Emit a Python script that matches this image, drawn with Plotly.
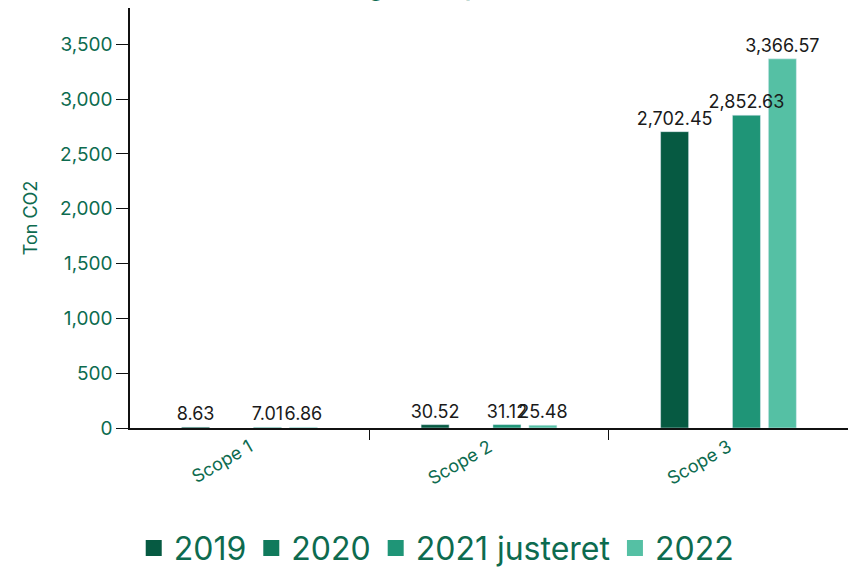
import plotly.graph_objects as go

categories = ["Scope 1", "Scope 2", "Scope 3"]
series_names = ["2019", "2020", "2021 justeret", "2022"]
v2019 = [8.63, 30.52, 2702.45]
v2020 = [None, None, None]
v2021 = [7.01, 31.12, 2852.63]
v2022 = [6.86, 25.48, 3366.57]
yticks = [0, 500, 1000, 1500, 2000, 2500, 3000, 3500]

colors = ["#065a42", "#107a5c", "#1f9577", "#55c0a4"]
values = [v2019, v2020, v2021, v2022]

FONT = "Inter, Lato, sans-serif"
GREEN = "#0d6b4f"

# grouped layout: 4 slots per category, drawn last-to-first so labels sit on top
SLOT = 0.15
BAR_W = 0.117
n = len(series_names)

fig = go.Figure()
for i in reversed(range(n)):
    center = (i - (n - 1) / 2) * SLOT
    fig.add_trace(go.Bar(
        x=categories, y=values[i], name=series_names[i], marker_color=colors[i],
        width=BAR_W, offset=center - BAR_W / 2,
        texttemplate="%{y:,.2f}", textposition="outside",
        constraintext="none",
        textfont=dict(family=FONT, size=18, color="#1a1a1a"),
        cliponaxis=False, showlegend=False,
    ))
# legend entries with larger square swatches
for name, col in zip(series_names, colors):
    fig.add_trace(go.Scatter(
        x=[None], y=[None], mode="markers", name=name,
        marker=dict(symbol="square", size=16, color=col),
        showlegend=True, hoverinfo="skip",
    ))

fig.add_annotation(
    text="<b>Udledning fordelt på år</b>", xref="paper", yref="paper",
    x=0.37, y=1.0, yshift=5, showarrow=False, yanchor="bottom", xanchor="center",
    font=dict(family=FONT, size=22, color=GREEN),
)

fig.update_layout(
    width=852, height=568,
    margin=dict(l=130, r=4, t=8, b=140, autoexpand=False),
    paper_bgcolor="white", plot_bgcolor="white",
    barmode="overlay",
    font=dict(family=FONT, color=GREEN),
    showlegend=True,
    legend=dict(orientation="h", xref="container", x=0.512, xanchor="center",
                yref="container", y=0.035, yanchor="middle",
                font=dict(family=FONT, size=32, color=GREEN),
                itemwidth=30, tracegroupgap=0),
)
fig.update_yaxes(
    range=[0, 3830], tickvals=yticks, tickformat=",", automargin=False,
    showgrid=False, zeroline=False, showline=True, linecolor="#111", linewidth=1.5,
    ticks="outside", ticklen=12, tickcolor="#111",
    tickfont=dict(family=FONT, size=19, color=GREEN),
    title=dict(text="Ton CO2", font=dict(family=FONT, size=18, color=GREEN), standoff=18),
)
fig.update_xaxes(
    automargin=False, range=[-0.499, 2.499],
    showgrid=False, showline=True, linecolor="#111", linewidth=1.5,
    ticks="outside", ticklen=10, tickcolor="#111", tickson="boundaries",
    tickangle=-30,
    tickfont=dict(family=FONT, size=18, color=GREEN),
)

fig.write_html("out.html", config={"displayModeBar": False},
               post_script="document.body.style.margin='0';")
